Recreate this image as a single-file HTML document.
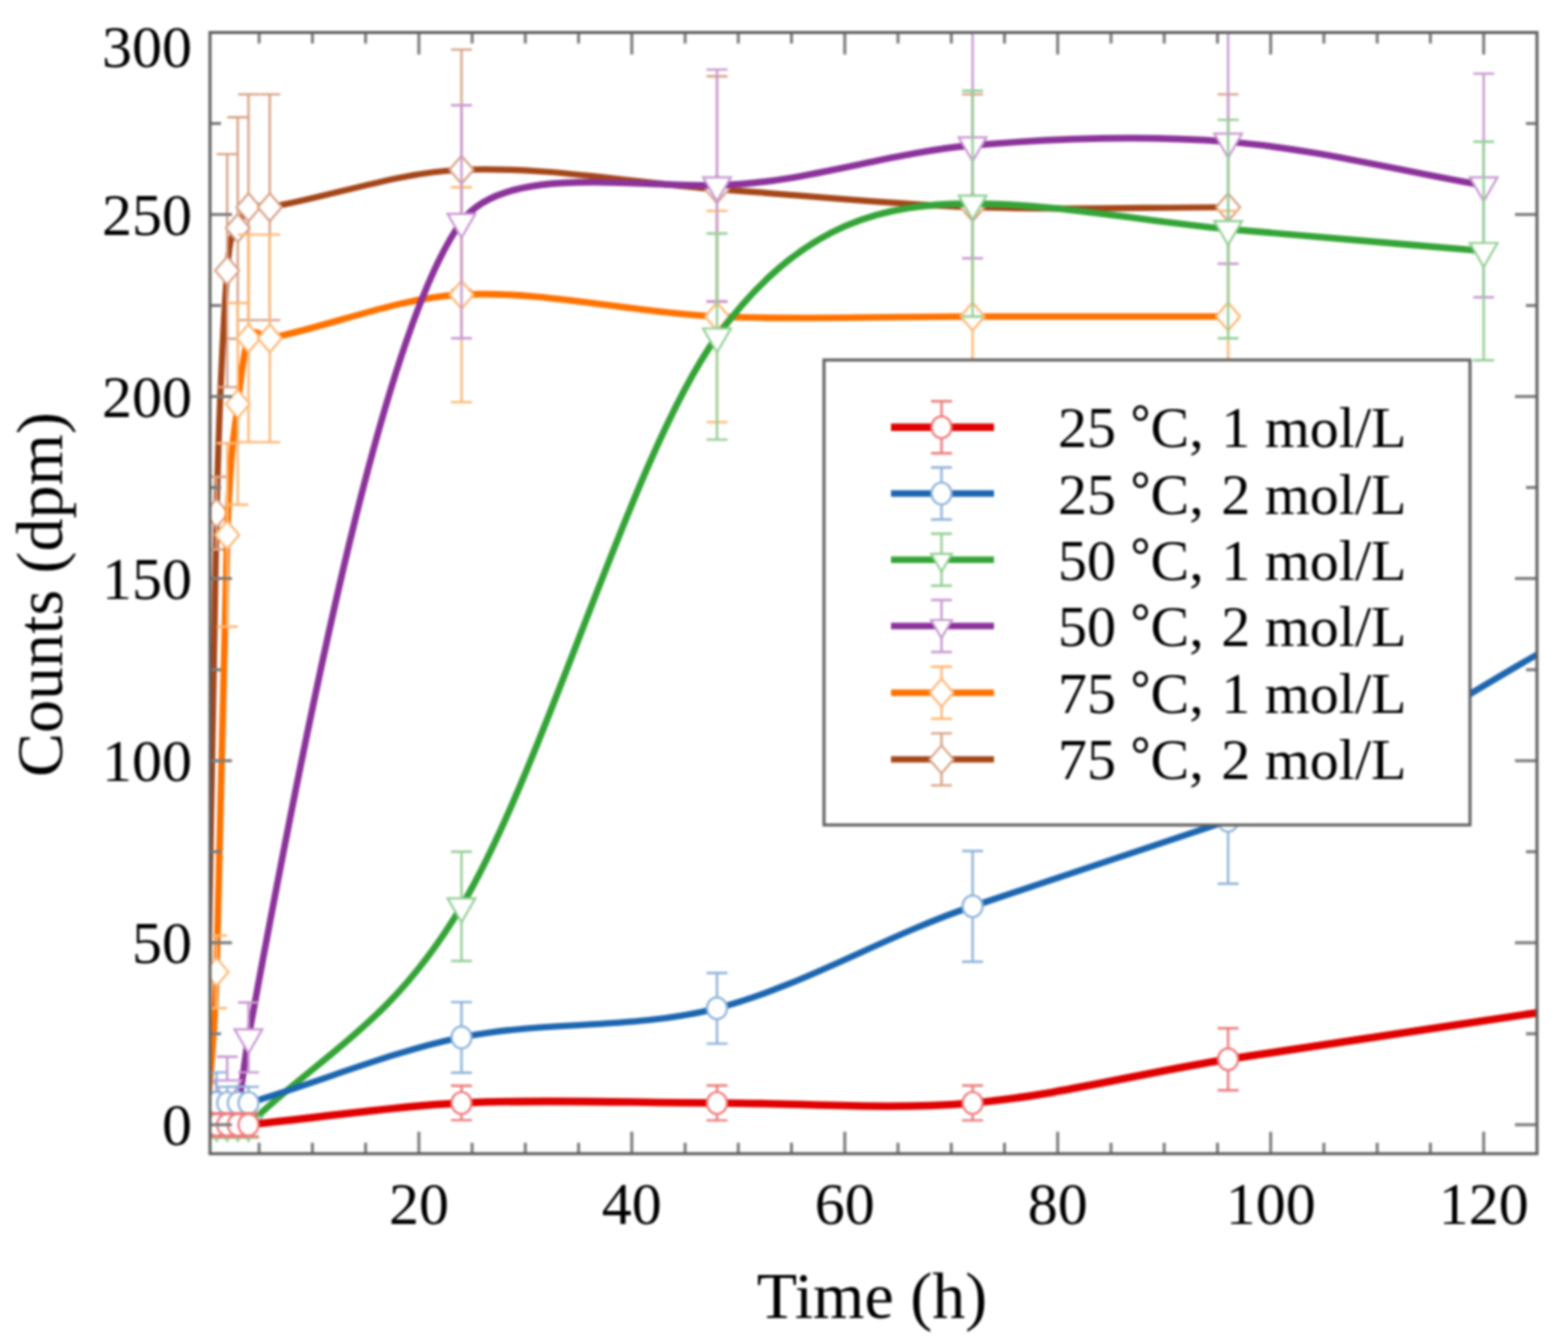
<!DOCTYPE html>
<html><head><meta charset="utf-8"><title>Counts vs Time</title>
<style>html,body{margin:0;padding:0;background:#fff;} svg{display:block;} .bl{filter:blur(0.8px);}</style>
</head><body><div class="bl">
<svg width="1558" height="1341" viewBox="0 0 1558 1341">
<rect width="1558" height="1341" fill="#fff"/>
<defs><clipPath id="pc"><rect x="210.0" y="32.5" width="1327.0" height="1121.2"/></clipPath></defs>
<g clip-path="url(#pc)">
<path d="M205.90,1124.80 C209.45,920.90 213.00,655.48 216.55,513.11 C220.10,370.75 223.65,318.14 227.20,270.62 C230.75,223.11 234.29,238.58 237.84,228.02 C241.39,217.46 244.94,209.57 248.49,207.27 C255.59,202.66 262.69,208.52 269.79,207.27 C333.68,196.02 397.56,172.37 461.45,169.77 C546.64,166.30 631.82,182.81 717.00,189.06 C802.19,195.31 887.37,204.23 972.56,207.27 C1057.74,210.30 1142.92,207.27 1228.11,207.27" fill="none" stroke="#a54619" stroke-width="6.2" stroke-linejoin="round"/>
<path d="M216.5,476.7 V549.5 M206.0,476.7 H227.0 M206.0,549.5 H227.0" stroke="#d9a488" stroke-width="2.4" fill="none"/>
<path d="M227.2,154.1 V387.1 M216.7,154.1 H237.7 M216.7,387.1 H237.7" stroke="#d9a488" stroke-width="2.4" fill="none"/>
<path d="M237.8,117.3 V338.7 M227.3,117.3 H248.3 M227.3,338.7 H248.3" stroke="#d9a488" stroke-width="2.4" fill="none"/>
<path d="M248.5,94.4 V320.1 M238.0,94.4 H259.0 M238.0,320.1 H259.0" stroke="#d9a488" stroke-width="2.4" fill="none"/>
<path d="M269.8,94.4 V320.1 M259.3,94.4 H280.3 M259.3,320.1 H280.3" stroke="#d9a488" stroke-width="2.4" fill="none"/>
<path d="M461.5,49.6 V289.9 M451.0,49.6 H472.0 M451.0,289.9 H472.0" stroke="#d9a488" stroke-width="2.4" fill="none"/>
<path d="M717.0,76.2 V301.9 M706.5,76.2 H727.5 M706.5,301.9 H727.5" stroke="#d9a488" stroke-width="2.4" fill="none"/>
<path d="M972.6,94.4 V320.1 M962.1,94.4 H983.1 M962.1,320.1 H983.1" stroke="#d9a488" stroke-width="2.4" fill="none"/>
<path d="M1228.1,94.4 V320.1 M1217.6,94.4 H1238.6 M1217.6,320.1 H1238.6" stroke="#d9a488" stroke-width="2.4" fill="none"/>
<path d="M216.5,499.1 L228.5,513.1 L216.5,527.1 L204.5,513.1 Z" fill="#fff" stroke="#d9a488" stroke-width="2.2"/>
<path d="M227.2,256.6 L239.2,270.6 L227.2,284.6 L215.2,270.6 Z" fill="#fff" stroke="#d9a488" stroke-width="2.2"/>
<path d="M237.8,214.0 L249.8,228.0 L237.8,242.0 L225.8,228.0 Z" fill="#fff" stroke="#d9a488" stroke-width="2.2"/>
<path d="M248.5,193.3 L260.5,207.3 L248.5,221.3 L236.5,207.3 Z" fill="#fff" stroke="#d9a488" stroke-width="2.2"/>
<path d="M269.8,193.3 L281.8,207.3 L269.8,221.3 L257.8,207.3 Z" fill="#fff" stroke="#d9a488" stroke-width="2.2"/>
<path d="M461.5,155.8 L473.5,169.8 L461.5,183.8 L449.5,169.8 Z" fill="#fff" stroke="#d9a488" stroke-width="2.2"/>
<path d="M717.0,175.1 L729.0,189.1 L717.0,203.1 L705.0,189.1 Z" fill="#fff" stroke="#d9a488" stroke-width="2.2"/>
<path d="M972.6,193.3 L984.6,207.3 L972.6,221.3 L960.6,207.3 Z" fill="#fff" stroke="#d9a488" stroke-width="2.2"/>
<path d="M1228.1,193.3 L1240.1,207.3 L1228.1,221.3 L1216.1,207.3 Z" fill="#fff" stroke="#d9a488" stroke-width="2.2"/>
<path d="M205.90,1124.80 C209.45,1073.83 213.00,1070.18 216.55,971.88 C220.10,873.57 223.65,629.62 227.20,534.96 C230.75,440.29 234.29,436.65 237.84,403.88 C241.39,371.11 244.94,345.63 248.49,338.34 C255.59,323.78 262.69,339.80 269.79,338.34 C333.68,325.24 397.56,297.77 461.45,294.65 C546.64,290.49 631.82,312.86 717.00,316.50 C802.19,320.14 887.37,316.50 972.56,316.50 C1057.74,316.50 1142.92,316.50 1228.11,316.50" fill="none" stroke="#ff7200" stroke-width="6.6" stroke-linejoin="round"/>
<path d="M216.5,935.5 V1008.3 M206.0,935.5 H227.0 M206.0,1008.3 H227.0" stroke="#ffb877" stroke-width="2.4" fill="none"/>
<path d="M227.2,443.2 V626.7 M216.7,443.2 H237.7 M216.7,626.7 H237.7" stroke="#ffb877" stroke-width="2.4" fill="none"/>
<path d="M237.8,303.0 V504.7 M227.3,303.0 H248.3 M227.3,504.7 H248.3" stroke="#ffb877" stroke-width="2.4" fill="none"/>
<path d="M248.5,234.6 V442.1 M238.0,234.6 H259.0 M238.0,442.1 H259.0" stroke="#ffb877" stroke-width="2.4" fill="none"/>
<path d="M269.8,234.6 V442.1 M259.3,234.6 H280.3 M259.3,442.1 H280.3" stroke="#ffb877" stroke-width="2.4" fill="none"/>
<path d="M461.5,187.2 V402.1 M451.0,187.2 H472.0 M451.0,402.1 H472.0" stroke="#ffb877" stroke-width="2.4" fill="none"/>
<path d="M717.0,210.9 V422.1 M706.5,210.9 H727.5 M706.5,422.1 H727.5" stroke="#ffb877" stroke-width="2.4" fill="none"/>
<path d="M972.6,210.9 V422.1 M962.1,210.9 H983.1 M962.1,422.1 H983.1" stroke="#ffb877" stroke-width="2.4" fill="none"/>
<path d="M1228.1,210.9 V422.1 M1217.6,210.9 H1238.6 M1217.6,422.1 H1238.6" stroke="#ffb877" stroke-width="2.4" fill="none"/>
<path d="M216.5,957.9 L228.5,971.9 L216.5,985.9 L204.5,971.9 Z" fill="#fff" stroke="#ffb877" stroke-width="2.2"/>
<path d="M227.2,521.0 L239.2,535.0 L227.2,549.0 L215.2,535.0 Z" fill="#fff" stroke="#ffb877" stroke-width="2.2"/>
<path d="M237.8,389.9 L249.8,403.9 L237.8,417.9 L225.8,403.9 Z" fill="#fff" stroke="#ffb877" stroke-width="2.2"/>
<path d="M248.5,324.3 L260.5,338.3 L248.5,352.3 L236.5,338.3 Z" fill="#fff" stroke="#ffb877" stroke-width="2.2"/>
<path d="M269.8,324.3 L281.8,338.3 L269.8,352.3 L257.8,338.3 Z" fill="#fff" stroke="#ffb877" stroke-width="2.2"/>
<path d="M461.5,280.7 L473.5,294.7 L461.5,308.7 L449.5,294.7 Z" fill="#fff" stroke="#ffb877" stroke-width="2.2"/>
<path d="M717.0,302.5 L729.0,316.5 L717.0,330.5 L705.0,316.5 Z" fill="#fff" stroke="#ffb877" stroke-width="2.2"/>
<path d="M972.6,302.5 L984.6,316.5 L972.6,330.5 L960.6,316.5 Z" fill="#fff" stroke="#ffb877" stroke-width="2.2"/>
<path d="M1228.1,302.5 L1240.1,316.5 L1228.1,330.5 L1216.1,316.5 Z" fill="#fff" stroke="#ffb877" stroke-width="2.2"/>
<path d="M205.90,1102.95 C209.45,1102.95 213.00,1105.38 216.55,1102.95 C220.10,1100.53 223.65,1088.39 227.20,1088.39 C230.75,1088.39 234.29,1111.45 237.84,1102.95 C241.39,1094.46 244.94,1056.83 248.49,1037.42 C319.48,649.04 390.47,318.93 461.45,221.83 C504.04,163.58 631.82,187.24 717.00,185.42 C802.19,183.67 887.37,152.65 972.56,145.37 C1057.74,138.09 1142.92,135.05 1228.11,141.73 C1313.29,148.41 1398.48,170.86 1483.66,185.42" fill="none" stroke="#8c329b" stroke-width="6.6" stroke-linejoin="round"/>
<path d="M216.5,1092.0 V1113.9 M206.0,1092.0 H227.0 M206.0,1113.9 H227.0" stroke="#c999d2" stroke-width="2.4" fill="none"/>
<path d="M227.2,1056.7 V1120.1 M216.7,1056.7 H237.7 M216.7,1120.1 H237.7" stroke="#c999d2" stroke-width="2.4" fill="none"/>
<path d="M237.8,1086.9 V1119.0 M227.3,1086.9 H248.3 M227.3,1119.0 H248.3" stroke="#c999d2" stroke-width="2.4" fill="none"/>
<path d="M248.5,1002.5 V1072.4 M238.0,1002.5 H259.0 M238.0,1072.4 H259.0" stroke="#c999d2" stroke-width="2.4" fill="none"/>
<path d="M461.5,105.3 V338.3 M451.0,105.3 H472.0 M451.0,338.3 H472.0" stroke="#c999d2" stroke-width="2.4" fill="none"/>
<path d="M717.0,69.6 V301.2 M706.5,69.6 H727.5 M706.5,301.2 H727.5" stroke="#c999d2" stroke-width="2.4" fill="none"/>
<path d="M972.6,32.5 V258.2 M962.1,32.5 H983.1 M962.1,258.2 H983.1" stroke="#c999d2" stroke-width="2.4" fill="none"/>
<path d="M1228.1,19.8 V263.7 M1217.6,19.8 H1238.6 M1217.6,263.7 H1238.6" stroke="#c999d2" stroke-width="2.4" fill="none"/>
<path d="M1483.7,73.6 V297.2 M1473.2,73.6 H1494.2 M1473.2,297.2 H1494.2" stroke="#c999d2" stroke-width="2.4" fill="none"/>
<path d="M202.7,1095.0 L230.4,1095.0 L216.5,1119.0 Z" fill="#fff" stroke="#c999d2" stroke-width="2.2" stroke-linejoin="miter"/>
<path d="M213.3,1080.4 L241.1,1080.4 L227.2,1104.4 Z" fill="#fff" stroke="#c999d2" stroke-width="2.2" stroke-linejoin="miter"/>
<path d="M224.0,1095.0 L251.7,1095.0 L237.8,1119.0 Z" fill="#fff" stroke="#c999d2" stroke-width="2.2" stroke-linejoin="miter"/>
<path d="M234.6,1029.4 L262.3,1029.4 L248.5,1053.4 Z" fill="#fff" stroke="#c999d2" stroke-width="2.2" stroke-linejoin="miter"/>
<path d="M447.6,213.8 L475.3,213.8 L461.5,237.8 Z" fill="#fff" stroke="#c999d2" stroke-width="2.2" stroke-linejoin="miter"/>
<path d="M703.1,177.4 L730.9,177.4 L717.0,201.4 Z" fill="#fff" stroke="#c999d2" stroke-width="2.2" stroke-linejoin="miter"/>
<path d="M958.7,137.4 L986.4,137.4 L972.6,161.4 Z" fill="#fff" stroke="#c999d2" stroke-width="2.2" stroke-linejoin="miter"/>
<path d="M1214.3,133.7 L1242.0,133.7 L1228.1,157.7 Z" fill="#fff" stroke="#c999d2" stroke-width="2.2" stroke-linejoin="miter"/>
<path d="M1469.8,177.4 L1497.5,177.4 L1483.7,201.4 Z" fill="#fff" stroke="#c999d2" stroke-width="2.2" stroke-linejoin="miter"/>
<path d="M205.90,1124.80 C209.45,1124.80 213.00,1124.80 216.55,1124.80 C220.10,1124.80 223.65,1124.80 227.20,1124.80 C230.75,1124.80 234.29,1124.80 237.84,1124.80 C241.39,1124.80 244.94,1128.27 248.49,1124.80 C319.48,1055.45 390.47,1025.78 461.45,906.34 C546.64,763.02 631.82,453.64 717.00,336.52 C802.19,219.40 887.37,203.63 972.56,203.63 C1057.74,203.63 1142.92,221.23 1228.11,229.11 C1313.29,237.00 1398.48,243.68 1483.66,250.96" fill="none" stroke="#34a437" stroke-width="6.6" stroke-linejoin="round"/>
<path d="M216.5,1112.1 V1137.5 M206.0,1112.1 H227.0 M206.0,1137.5 H227.0" stroke="#94d096" stroke-width="2.4" fill="none"/>
<path d="M227.2,1112.1 V1137.5 M216.7,1112.1 H237.7 M216.7,1137.5 H237.7" stroke="#94d096" stroke-width="2.4" fill="none"/>
<path d="M237.8,1112.1 V1137.5 M227.3,1112.1 H248.3 M227.3,1137.5 H248.3" stroke="#94d096" stroke-width="2.4" fill="none"/>
<path d="M248.5,1112.1 V1137.5 M238.0,1112.1 H259.0 M238.0,1137.5 H259.0" stroke="#94d096" stroke-width="2.4" fill="none"/>
<path d="M461.5,851.7 V961.0 M451.0,851.7 H472.0 M451.0,961.0 H472.0" stroke="#94d096" stroke-width="2.4" fill="none"/>
<path d="M717.0,233.5 V439.6 M706.5,233.5 H727.5 M706.5,439.6 H727.5" stroke="#94d096" stroke-width="2.4" fill="none"/>
<path d="M972.6,90.8 V316.5 M962.1,90.8 H983.1 M962.1,316.5 H983.1" stroke="#94d096" stroke-width="2.4" fill="none"/>
<path d="M1228.1,119.9 V338.3 M1217.6,119.9 H1238.6 M1217.6,338.3 H1238.6" stroke="#94d096" stroke-width="2.4" fill="none"/>
<path d="M1483.7,141.7 V360.2 M1473.2,141.7 H1494.2 M1473.2,360.2 H1494.2" stroke="#94d096" stroke-width="2.4" fill="none"/>
<path d="M202.7,1116.8 L230.4,1116.8 L216.5,1140.8 Z" fill="#fff" stroke="#94d096" stroke-width="2.2" stroke-linejoin="miter"/>
<path d="M213.3,1116.8 L241.1,1116.8 L227.2,1140.8 Z" fill="#fff" stroke="#94d096" stroke-width="2.2" stroke-linejoin="miter"/>
<path d="M224.0,1116.8 L251.7,1116.8 L237.8,1140.8 Z" fill="#fff" stroke="#94d096" stroke-width="2.2" stroke-linejoin="miter"/>
<path d="M234.6,1116.8 L262.3,1116.8 L248.5,1140.8 Z" fill="#fff" stroke="#94d096" stroke-width="2.2" stroke-linejoin="miter"/>
<path d="M447.6,898.3 L475.3,898.3 L461.5,922.3 Z" fill="#fff" stroke="#94d096" stroke-width="2.2" stroke-linejoin="miter"/>
<path d="M703.1,328.5 L730.9,328.5 L717.0,352.5 Z" fill="#fff" stroke="#94d096" stroke-width="2.2" stroke-linejoin="miter"/>
<path d="M958.7,195.6 L986.4,195.6 L972.6,219.6 Z" fill="#fff" stroke="#94d096" stroke-width="2.2" stroke-linejoin="miter"/>
<path d="M1214.3,221.1 L1242.0,221.1 L1228.1,245.1 Z" fill="#fff" stroke="#94d096" stroke-width="2.2" stroke-linejoin="miter"/>
<path d="M1469.8,243.0 L1497.5,243.0 L1483.7,267.0 Z" fill="#fff" stroke="#94d096" stroke-width="2.2" stroke-linejoin="miter"/>
<path d="M205.90,1102.95 C209.45,1102.95 213.00,1102.95 216.55,1102.95 C220.10,1102.95 223.65,1102.95 227.20,1102.95 C230.75,1102.95 234.29,1102.95 237.84,1102.95 C241.39,1102.95 244.94,1103.99 248.49,1102.95 C319.48,1082.15 390.47,1051.76 461.45,1037.42 C546.64,1020.20 631.82,1030.13 717.00,1008.29 C802.19,986.44 887.37,934.59 972.56,906.34 C1057.74,878.09 1142.92,849.03 1228.11,820.78 C1331.04,786.64 1433.97,712.47 1536.90,654.75 C1604.34,616.93 1671.77,579.01 1739.21,541.15" fill="none" stroke="#1c66b0" stroke-width="6.4" stroke-linejoin="round"/>
<path d="M216.5,1072.4 V1133.5 M206.0,1072.4 H227.0 M206.0,1133.5 H227.0" stroke="#8fb4da" stroke-width="2.4" fill="none"/>
<path d="M227.2,1086.9 V1119.0 M216.7,1086.9 H237.7 M216.7,1119.0 H237.7" stroke="#8fb4da" stroke-width="2.4" fill="none"/>
<path d="M237.8,1086.9 V1119.0 M227.3,1086.9 H248.3 M227.3,1119.0 H248.3" stroke="#8fb4da" stroke-width="2.4" fill="none"/>
<path d="M248.5,1086.9 V1119.0 M238.0,1086.9 H259.0 M238.0,1119.0 H259.0" stroke="#8fb4da" stroke-width="2.4" fill="none"/>
<path d="M461.5,1002.1 V1072.7 M451.0,1002.1 H472.0 M451.0,1072.7 H472.0" stroke="#8fb4da" stroke-width="2.4" fill="none"/>
<path d="M717.0,973.0 V1043.6 M706.5,973.0 H727.5 M706.5,1043.6 H727.5" stroke="#8fb4da" stroke-width="2.4" fill="none"/>
<path d="M972.6,851.0 V961.7 M962.1,851.0 H983.1 M962.1,961.7 H983.1" stroke="#8fb4da" stroke-width="2.4" fill="none"/>
<path d="M1228.1,757.8 V883.8 M1217.6,757.8 H1238.6 M1217.6,883.8 H1238.6" stroke="#8fb4da" stroke-width="2.4" fill="none"/>
<ellipse cx="216.5" cy="1103.0" rx="10.00" ry="11.00" fill="#fff" stroke="#8fb4da" stroke-width="2.2"/>
<ellipse cx="227.2" cy="1103.0" rx="10.00" ry="11.00" fill="#fff" stroke="#8fb4da" stroke-width="2.2"/>
<ellipse cx="237.8" cy="1103.0" rx="10.00" ry="11.00" fill="#fff" stroke="#8fb4da" stroke-width="2.2"/>
<ellipse cx="248.5" cy="1103.0" rx="10.00" ry="11.00" fill="#fff" stroke="#8fb4da" stroke-width="2.2"/>
<ellipse cx="461.5" cy="1037.4" rx="10.00" ry="11.00" fill="#fff" stroke="#8fb4da" stroke-width="2.2"/>
<ellipse cx="717.0" cy="1008.3" rx="10.00" ry="11.00" fill="#fff" stroke="#8fb4da" stroke-width="2.2"/>
<ellipse cx="972.6" cy="906.3" rx="10.00" ry="11.00" fill="#fff" stroke="#8fb4da" stroke-width="2.2"/>
<ellipse cx="1228.1" cy="820.8" rx="10.00" ry="11.00" fill="#fff" stroke="#8fb4da" stroke-width="2.2"/>
<path d="M205.90,1124.80 C209.45,1124.80 213.00,1124.80 216.55,1124.80 C220.10,1124.80 223.65,1124.80 227.20,1124.80 C230.75,1124.80 234.29,1124.80 237.84,1124.80 C241.39,1124.80 244.94,1125.15 248.49,1124.80 C319.48,1117.86 390.47,1106.26 461.45,1102.95 C546.64,1098.98 631.82,1102.95 717.00,1102.95 C802.19,1102.95 887.37,1110.24 972.56,1102.95 C1057.74,1095.67 1142.92,1072.61 1228.11,1059.26 C1398.48,1032.56 1568.84,1008.29 1739.21,982.80" fill="none" stroke="#e00000" stroke-width="7.6" stroke-linejoin="round"/>
<path d="M216.5,1113.1 V1136.5 M206.0,1113.1 H227.0 M206.0,1136.5 H227.0" stroke="#f07a7a" stroke-width="2.4" fill="none"/>
<path d="M227.2,1113.1 V1136.5 M216.7,1113.1 H237.7 M216.7,1136.5 H237.7" stroke="#f07a7a" stroke-width="2.4" fill="none"/>
<path d="M237.8,1113.1 V1136.5 M227.3,1113.1 H248.3 M227.3,1136.5 H248.3" stroke="#f07a7a" stroke-width="2.4" fill="none"/>
<path d="M248.5,1113.1 V1136.5 M238.0,1113.1 H259.0 M238.0,1136.5 H259.0" stroke="#f07a7a" stroke-width="2.4" fill="none"/>
<path d="M461.5,1085.8 V1120.1 M451.0,1085.8 H472.0 M451.0,1120.1 H472.0" stroke="#f07a7a" stroke-width="2.4" fill="none"/>
<path d="M717.0,1085.5 V1120.4 M706.5,1085.5 H727.5 M706.5,1120.4 H727.5" stroke="#f07a7a" stroke-width="2.4" fill="none"/>
<path d="M972.6,1085.5 V1120.4 M962.1,1085.5 H983.1 M962.1,1120.4 H983.1" stroke="#f07a7a" stroke-width="2.4" fill="none"/>
<path d="M1228.1,1028.3 V1090.2 M1217.6,1028.3 H1238.6 M1217.6,1090.2 H1238.6" stroke="#f07a7a" stroke-width="2.4" fill="none"/>
<ellipse cx="216.5" cy="1124.8" rx="10.00" ry="11.00" fill="#fff" stroke="#f07a7a" stroke-width="2.2"/>
<ellipse cx="227.2" cy="1124.8" rx="10.00" ry="11.00" fill="#fff" stroke="#f07a7a" stroke-width="2.2"/>
<ellipse cx="237.8" cy="1124.8" rx="10.00" ry="11.00" fill="#fff" stroke="#f07a7a" stroke-width="2.2"/>
<ellipse cx="248.5" cy="1124.8" rx="10.00" ry="11.00" fill="#fff" stroke="#f07a7a" stroke-width="2.2"/>
<ellipse cx="461.5" cy="1103.0" rx="10.00" ry="11.00" fill="#fff" stroke="#f07a7a" stroke-width="2.2"/>
<ellipse cx="717.0" cy="1103.0" rx="10.00" ry="11.00" fill="#fff" stroke="#f07a7a" stroke-width="2.2"/>
<ellipse cx="972.6" cy="1103.0" rx="10.00" ry="11.00" fill="#fff" stroke="#f07a7a" stroke-width="2.2"/>
<ellipse cx="1228.1" cy="1059.3" rx="10.00" ry="11.00" fill="#fff" stroke="#f07a7a" stroke-width="2.2"/>
</g>
<path d="M259.1,1153.7 V1142.7 M259.1,32.5 V43.5 M312.4,1153.7 V1142.7 M312.4,32.5 V43.5 M365.6,1153.7 V1142.7 M365.6,32.5 V43.5 M418.9,1153.7 V1131.7 M418.9,32.5 V54.5 M472.1,1153.7 V1142.7 M472.1,32.5 V43.5 M525.3,1153.7 V1142.7 M525.3,32.5 V43.5 M578.6,1153.7 V1142.7 M578.6,32.5 V43.5 M631.8,1153.7 V1131.7 M631.8,32.5 V54.5 M685.1,1153.7 V1142.7 M685.1,32.5 V43.5 M738.3,1153.7 V1142.7 M738.3,32.5 V43.5 M791.5,1153.7 V1142.7 M791.5,32.5 V43.5 M844.8,1153.7 V1131.7 M844.8,32.5 V54.5 M898.0,1153.7 V1142.7 M898.0,32.5 V43.5 M951.3,1153.7 V1142.7 M951.3,32.5 V43.5 M1004.5,1153.7 V1142.7 M1004.5,32.5 V43.5 M1057.7,1153.7 V1131.7 M1057.7,32.5 V54.5 M1111.0,1153.7 V1142.7 M1111.0,32.5 V43.5 M1164.2,1153.7 V1142.7 M1164.2,32.5 V43.5 M1217.5,1153.7 V1142.7 M1217.5,32.5 V43.5 M1270.7,1153.7 V1131.7 M1270.7,32.5 V54.5 M1323.9,1153.7 V1142.7 M1323.9,32.5 V43.5 M1377.2,1153.7 V1142.7 M1377.2,32.5 V43.5 M1430.4,1153.7 V1142.7 M1430.4,32.5 V43.5 M1483.7,1153.7 V1131.7 M1483.7,32.5 V54.5 M210.0,1033.8 H221.0 M1537.0,1033.8 H1526.0 M210.0,942.8 H232.0 M1537.0,942.8 H1515.0 M210.0,851.7 H221.0 M1537.0,851.7 H1526.0 M210.0,760.7 H232.0 M1537.0,760.7 H1515.0 M210.0,669.7 H221.0 M1537.0,669.7 H1526.0 M210.0,578.6 H232.0 M1537.0,578.6 H1515.0 M210.0,487.6 H221.0 M1537.0,487.6 H1526.0 M210.0,396.6 H232.0 M1537.0,396.6 H1515.0 M210.0,305.6 H221.0 M1537.0,305.6 H1526.0 M210.0,214.5 H232.0 M1537.0,214.5 H1515.0 M210.0,123.5 H221.0 M1537.0,123.5 H1526.0 M210.0,1124.8 H232.0 M1537.0,1124.8 H1515.0" stroke="#7c7c7c" stroke-width="3" fill="none"/>
<rect x="210.0" y="32.5" width="1327.0" height="1121.2" fill="none" stroke="#606060" stroke-width="3"/>
<text x="418.9" y="1224" text-anchor="middle" font-size="60" font-family="'Liberation Serif', 'Times New Roman', serif" fill="#000">20</text>
<text x="631.8" y="1224" text-anchor="middle" font-size="60" font-family="'Liberation Serif', 'Times New Roman', serif" fill="#000">40</text>
<text x="844.8" y="1224" text-anchor="middle" font-size="60" font-family="'Liberation Serif', 'Times New Roman', serif" fill="#000">60</text>
<text x="1057.7" y="1224" text-anchor="middle" font-size="60" font-family="'Liberation Serif', 'Times New Roman', serif" fill="#000">80</text>
<text x="1270.7" y="1224" text-anchor="middle" font-size="60" font-family="'Liberation Serif', 'Times New Roman', serif" fill="#000">100</text>
<text x="1483.7" y="1224" text-anchor="middle" font-size="60" font-family="'Liberation Serif', 'Times New Roman', serif" fill="#000">120</text>
<text x="192" y="1145.3" text-anchor="end" font-size="60" font-family="'Liberation Serif', 'Times New Roman', serif" fill="#000">0</text>
<text x="192" y="963.2" text-anchor="end" font-size="60" font-family="'Liberation Serif', 'Times New Roman', serif" fill="#000">50</text>
<text x="192" y="781.2" text-anchor="end" font-size="60" font-family="'Liberation Serif', 'Times New Roman', serif" fill="#000">100</text>
<text x="192" y="599.1" text-anchor="end" font-size="60" font-family="'Liberation Serif', 'Times New Roman', serif" fill="#000">150</text>
<text x="192" y="417.1" text-anchor="end" font-size="60" font-family="'Liberation Serif', 'Times New Roman', serif" fill="#000">200</text>
<text x="192" y="235.0" text-anchor="end" font-size="60" font-family="'Liberation Serif', 'Times New Roman', serif" fill="#000">250</text>
<text x="192" y="67.0" text-anchor="end" font-size="60" font-family="'Liberation Serif', 'Times New Roman', serif" fill="#000">300</text>
<text x="872" y="1318" text-anchor="middle" font-size="66" font-family="'Liberation Serif', 'Times New Roman', serif" fill="#000">Time (h)</text>
<text transform="translate(61.5,594.5) rotate(-90)" text-anchor="middle" font-size="66" font-family="'Liberation Serif', 'Times New Roman', serif" fill="#000">Counts (dpm)</text>
<rect x="824" y="360" width="646" height="465" fill="#fff" stroke="#606060" stroke-width="3"/>
<path d="M891,427.3 H994" stroke="#e00000" stroke-width="7.6"/>
<path d="M941.5,401.3 V453.3 M931.0,401.3 H952.0 M931.0,453.3 H952.0" stroke="#f07a7a" stroke-width="2.4" fill="none"/>
<ellipse cx="941.5" cy="427.3" rx="10.00" ry="11.00" fill="#fff" stroke="#f07a7a" stroke-width="2.2"/>
<text x="1058" y="447.3" font-size="58" font-family="'Liberation Serif', 'Times New Roman', serif" fill="#000">25 <tspan font-size="50" font-weight="bold" dy="-8">°</tspan><tspan dy="8">C,</tspan><tspan dx="3"> 1 mol/L</tspan></text>
<path d="M891,493.5 H994" stroke="#1c66b0" stroke-width="6.4"/>
<path d="M941.5,467.5 V519.5 M931.0,467.5 H952.0 M931.0,519.5 H952.0" stroke="#8fb4da" stroke-width="2.4" fill="none"/>
<ellipse cx="941.5" cy="493.5" rx="10.00" ry="11.00" fill="#fff" stroke="#8fb4da" stroke-width="2.2"/>
<text x="1058" y="513.5" font-size="58" font-family="'Liberation Serif', 'Times New Roman', serif" fill="#000">25 <tspan font-size="50" font-weight="bold" dy="-8">°</tspan><tspan dy="8">C,</tspan><tspan dx="3"> 2 mol/L</tspan></text>
<path d="M891,559.8 H994" stroke="#34a437" stroke-width="6.6"/>
<path d="M941.5,533.8 V585.8 M931.0,533.8 H952.0 M931.0,585.8 H952.0" stroke="#94d096" stroke-width="2.4" fill="none"/>
<path d="M931.1,553.8 L951.9,553.8 L941.5,571.8 Z" fill="#fff" stroke="#94d096" stroke-width="2.2" stroke-linejoin="miter"/>
<text x="1058" y="579.8" font-size="58" font-family="'Liberation Serif', 'Times New Roman', serif" fill="#000">50 <tspan font-size="50" font-weight="bold" dy="-8">°</tspan><tspan dy="8">C,</tspan><tspan dx="3"> 1 mol/L</tspan></text>
<path d="M891,626.0 H994" stroke="#8c329b" stroke-width="6.6"/>
<path d="M941.5,600.0 V652.0 M931.0,600.0 H952.0 M931.0,652.0 H952.0" stroke="#c999d2" stroke-width="2.4" fill="none"/>
<path d="M931.1,620.0 L951.9,620.0 L941.5,638.0 Z" fill="#fff" stroke="#c999d2" stroke-width="2.2" stroke-linejoin="miter"/>
<text x="1058" y="646.0" font-size="58" font-family="'Liberation Serif', 'Times New Roman', serif" fill="#000">50 <tspan font-size="50" font-weight="bold" dy="-8">°</tspan><tspan dy="8">C,</tspan><tspan dx="3"> 2 mol/L</tspan></text>
<path d="M891,692.7 H994" stroke="#ff7200" stroke-width="6.6"/>
<path d="M941.5,666.7 V718.7 M931.0,666.7 H952.0 M931.0,718.7 H952.0" stroke="#ffb877" stroke-width="2.4" fill="none"/>
<path d="M941.5,678.7 L953.5,692.7 L941.5,706.7 L929.5,692.7 Z" fill="#fff" stroke="#ffb877" stroke-width="2.2"/>
<text x="1058" y="712.7" font-size="58" font-family="'Liberation Serif', 'Times New Roman', serif" fill="#000">75 <tspan font-size="50" font-weight="bold" dy="-8">°</tspan><tspan dy="8">C,</tspan><tspan dx="3"> 1 mol/L</tspan></text>
<path d="M891,759.4 H994" stroke="#a54619" stroke-width="6.2"/>
<path d="M941.5,733.4 V785.4 M931.0,733.4 H952.0 M931.0,785.4 H952.0" stroke="#d9a488" stroke-width="2.4" fill="none"/>
<path d="M941.5,745.4 L953.5,759.4 L941.5,773.4 L929.5,759.4 Z" fill="#fff" stroke="#d9a488" stroke-width="2.2"/>
<text x="1058" y="779.4" font-size="58" font-family="'Liberation Serif', 'Times New Roman', serif" fill="#000">75 <tspan font-size="50" font-weight="bold" dy="-8">°</tspan><tspan dy="8">C,</tspan><tspan dx="3"> 2 mol/L</tspan></text>
</svg>
</div></body></html>
